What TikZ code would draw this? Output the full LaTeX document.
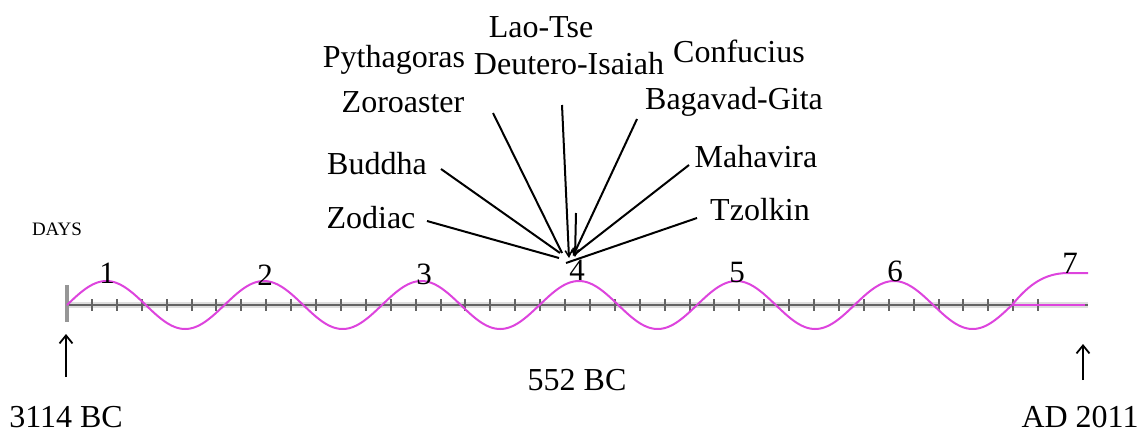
\documentclass[tikz,border=0pt]{standalone}
\usepackage{fontspec}
\setmainfont{Liberation Serif}
\usetikzlibrary{arrows.meta}
\definecolor{wave}{RGB}{221,68,221}
\definecolor{axisdark}{RGB}{100,100,100}
\definecolor{axislight}{RGB}{222,222,222}
\definecolor{barcol}{RGB}{150,150,150}
\begin{document}
\begin{tikzpicture}[x=1pt,y=-1pt,
  lbl/.style={font=\fontsize{32}{38}\selectfont, anchor=base, inner sep=0pt},
  num/.style={font=\fontsize{31}{36}\selectfont, anchor=base, inner sep=0pt},
  small/.style={font=\fontsize{19}{22}\selectfont, anchor=base, inner sep=0pt},
  ray/.style={line width=2pt, black},
  tipray/.style={ray, -{Straight Barb[length=6pt,width=7pt,line width=1.5pt]}},
  uparrow/.style={line width=2pt, black, -{Straight Barb[length=8pt,width=13pt,line width=1.8pt]}},
  tick/.style={line width=2pt, axisdark},
  wavestyle/.style={line width=2pt, wave}
]
\useasboundingbox (0,0) rectangle (1142,433);

% axis
\coordinate (axL) at (67,305);
\coordinate (axR) at (1088,305);
\draw[line width=6pt, axislight] (axL) -- (axR);
\draw[line width=2.5pt, axisdark] (axL) -- (axR);
\foreach \k in {1,...,39} {
  \draw[tick] ({67+24.9*\k},299) -- ({67+24.9*\k},311);
}
\draw[line width=3.5pt, barcol] (67,285) -- (67,322);

% wave
\draw[wavestyle] plot[domain=0:6, samples=400, smooth] ({67+157.5*\x}, {305-24*sin(360*\x)});
\draw[wavestyle] (1012,305) .. controls (1030,283) and (1045,274) .. (1066,273) -- (1088,273);
\draw[wavestyle] (1012,305) -- (1085,305);

% period numbers
\node[num] (n1) at (107,283) {1};
\node[num] (n2) at (265,285) {2};
\node[num] (n3) at (424,284) {3};
\node[num] (n4) at (577,280) {4};
\node[num] (n5) at (737,282) {5};
\node[num] (n6) at (895,281) {6};
\node[num] (n7) at (1070,273) {7};

% names
\node[lbl] (laotse) at (541,38) {Lao-Tse};
\node[lbl] (pyth) at (394,68) {Pythagoras};
\node[lbl] (deut) at (569,75) {Deutero-Isaiah};
\node[lbl] (conf) at (739,63) {Confucius};
\node[lbl] (zoro) at (403,113) {Zoroaster};
\node[lbl] (baga) at (734,110) {Bagavad-Gita};
\node[lbl] (budd) at (377,174) {Buddha};
\node[lbl] (maha) at (756,167) {Mahavira};
\node[lbl] (zodi) at (371,228) {Zodiac};
\node[lbl] (tzol) at (760,220) {Tzolkin};
\node[small] (days) at (57,235) {DAYS};

% ray coordinates
\coordinate (zodiS) at (427,221);
\coordinate (zodiE) at (559,258);
\coordinate (buddS) at (441,169);
\coordinate (buddE) at (560,253);
\coordinate (zoroS) at (493,113);
\coordinate (zoroE) at (562,253);
\coordinate (deutS) at (562,105);
\coordinate (deutE) at (569,258);
\coordinate (laoS) at (576,213);
\coordinate (laoE) at (575,257);
\coordinate (bagaS) at (637,119);
\coordinate (bagaE) at (573,256);
\coordinate (mahaS) at (689,165);
\coordinate (mahaE) at (575,254);
\coordinate (tzolS) at (697,218);
\coordinate (tzolE) at (566,263);

\draw[ray] (zodiS) -- (zodiE);
\draw[ray] (buddS) -- (buddE);
\draw[ray] (zoroS) -- (zoroE);
\draw[tipray] (deutS) -- (deutE);
\draw[tipray] (laoS) -- (laoE);
\draw[tipray] (bagaS) -- (bagaE);
\draw[ray] (mahaS) -- (mahaE);
\draw[ray] (tzolS) -- (tzolE);

% bottom labels
\node[lbl] (start) at (66,427) {3114 BC};
\node[lbl] (mid) at (577,390) {552 BC};
\node[lbl] (end) at (1080,427) {AD 2011};
\coordinate (upLs) at (66,377);
\coordinate (upLe) at (66,334);
\coordinate (upRs) at (1083,380);
\coordinate (upRe) at (1083,344);
\draw[uparrow] (upLs) -- (upLe);
\draw[uparrow] (upRs) -- (upRe);
\end{tikzpicture}
\end{document}
